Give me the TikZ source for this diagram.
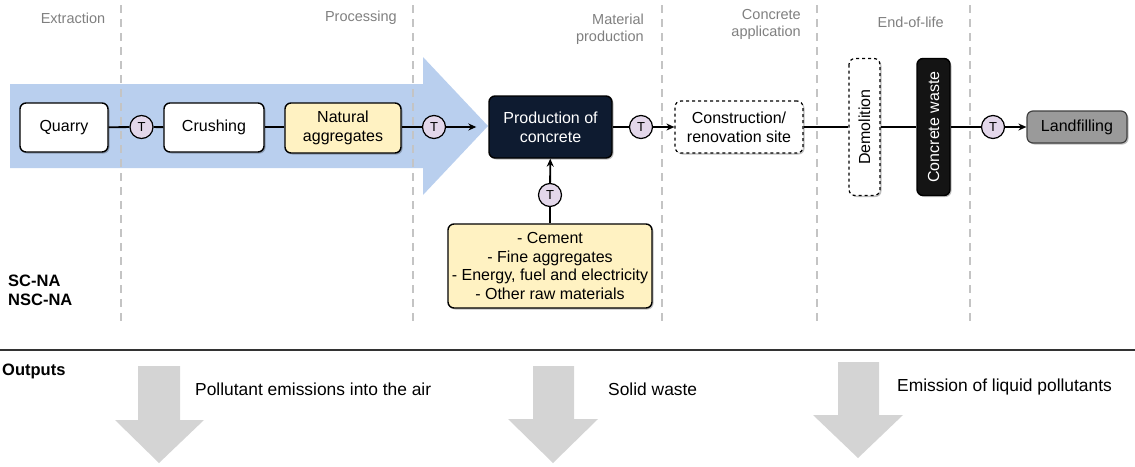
\documentclass[tikz,border=0pt]{standalone}
\usepackage{fontspec}
\setmainfont{Liberation Sans}
\usetikzlibrary{arrows.meta,shadows}
\definecolor{flowblue}{HTML}{B9CFEE}
\definecolor{phasegray}{HTML}{7F7F7F}
\definecolor{divgray}{HTML}{C4C4C4}
\definecolor{paleyellow}{HTML}{FFF2C2}
\definecolor{navy}{HTML}{0E1B30}
\definecolor{lavender}{HTML}{E3D7EA}
\definecolor{landgray}{HTML}{9A9A9A}
\definecolor{outgray}{HTML}{D4D4D4}
\begin{document}
\begin{tikzpicture}[x=1pt,y=-1pt,
  box/.style={draw=black, line width=1.4pt, rounded corners=6pt, inner sep=0pt,
    align=center, font=\fontsize{16}{19}\selectfont,
    drop shadow={shadow xshift=1.5pt, shadow yshift=-1.5pt, fill=black, opacity=0.25}},
  tnode/.style={circle, draw=black, line width=1.2pt, fill=lavender, minimum size=23pt,
    inner sep=0pt, font=\fontsize{13}{13}\selectfont},
  phase/.style={text=phasegray, font=\fontsize{14.5}{17}\selectfont, align=right, inner sep=0pt},
  conn/.style={line width=1.8pt, draw=black},
  arr/.style={conn, -{Stealth[length=8pt,width=7pt]}},
  divider/.style={draw=divgray, line width=2pt, dash pattern=on 8pt off 6pt},
  outtext/.style={font=\fontsize{17.4}{20}\selectfont, anchor=west, inner sep=0pt},
  bigarrow/.style={fill=outgray}
]
\useasboundingbox (0,0) rectangle (1135,466);

% main flow band
\fill[flowblue] (10,84) -- (423,84) -- (423,57) -- (488,126) -- (423,195) -- (423,168) -- (10,168) -- cycle;

% phase dividers
\foreach \x in {121,413,662,817,970}
  \draw[divider] (\x,5) -- (\x,326);

% phase headings
\node[phase, anchor=center] (phExt) at (73,18) {Extraction};
\node[phase, anchor=east] (phProc) at (397,18) {Processing};
\node[phase, anchor=east] (phMat) at (644,29) {Material\\production};
\node[phase, anchor=east] (phApp) at (801,24) {Concrete\\application};
\node[phase, anchor=east] (phEnd) at (944,22) {End-of-life};

% process boxes
\node[box, fill=white, minimum width=88pt, minimum height=49pt] (quarry) at (64,127.5) {Quarry};
\node[box, fill=white, minimum width=100pt, minimum height=49pt] (crush) at (214,127.5) {Crushing};
\node[box, fill=paleyellow, minimum width=116pt, minimum height=50pt] (nat) at (343,128) {Natural\\aggregates};
\node[box, fill=navy, text=white, minimum width=123pt, minimum height=62pt] (prod) at (550.5,127) {Production of\\concrete};
\node[box, fill=white, dashed, line width=1.2pt, minimum width=128pt, minimum height=52pt, drop shadow={opacity=0}] (site) at (739,127) {Construction/\\renovation site};
\node[box, fill=white, dashed, line width=1.2pt, rotate=90, minimum width=137pt, minimum height=31pt, drop shadow={opacity=0}] (demo) at (864.5,127) {Demolition};
\node[box, fill=black!92, text=white, rotate=90, minimum width=137pt, minimum height=33pt] (waste) at (933.5,127) {Concrete waste};
\node[box, fill=landgray, draw=black!75, line width=1.2pt, minimum width=100pt, minimum height=32pt] (land) at (1077,127) {Landfilling};
\node[box, fill=paleyellow, minimum width=204pt, minimum height=84pt, font=\fontsize{16}{18.7}\selectfont] (inputs) at (550,266) {- Cement\\- Fine aggregates\\- Energy, fuel and electricity\\- Other raw materials};

% transport markers
\node[tnode] (t1) at (141.5,127) {T};
\node[tnode] (t2) at (434,127) {T};
\node[tnode] (t3) at (641,127) {T};
\node[tnode] (t4) at (550,195) {T};
\node[tnode] (t5) at (993,127) {T};

% connectors
\draw[conn] (quarry) -- (t1);
\draw[conn] (t1) -- (crush);
\draw[conn] (crush.east |- t1) -- (nat.west |- t1);
\draw[conn] (nat.east |- t2) -- (t2);
\draw[arr, shorten >=12pt] (t2) -- (prod.west |- t2);
\draw[conn] (prod) -- (t3);
\draw[arr] (t3) -- (site);
\draw[conn] (site) -- (demo);
\draw[conn] (demo) -- (waste);
\draw[conn] (waste) -- (t5);
\draw[arr] (t5) -- (land);
\draw[conn] (inputs) -- (t4);
\draw[arr] (t4) -- (prod);

% scenario labels
\node[anchor=west, inner sep=0pt, align=left, font=\bfseries\fontsize{16.5}{19}\selectfont] (scen) at (8,290) {SC-NA\\NSC-NA};

% outputs section
\draw[draw=black!80, line width=2.2pt] (0,350) -- (1135,350);
\node[anchor=west, inner sep=0pt, font=\bfseries\fontsize{16.5}{19}\selectfont] (outs) at (2,371) {Outputs};

\fill[bigarrow] (138,366) -- (180,366) -- (180,420) -- (204,420) -- (159,463) -- (115,420) -- (138,420) -- cycle;
\fill[bigarrow] (533,366) -- (574,366) -- (574,419) -- (598,419) -- (553,463) -- (508,419) -- (533,419) -- cycle;
\fill[bigarrow] (838,362) -- (879,362) -- (879,415) -- (903,415) -- (858,458) -- (813,415) -- (838,415) -- cycle;

\node[outtext] (o1) at (195,389) {Pollutant emissions into the air};
\node[outtext] (o2) at (608,389) {Solid waste};
\node[outtext] (o3) at (897,387) {Emission of liquid pollutants};
\end{tikzpicture}
\end{document}
